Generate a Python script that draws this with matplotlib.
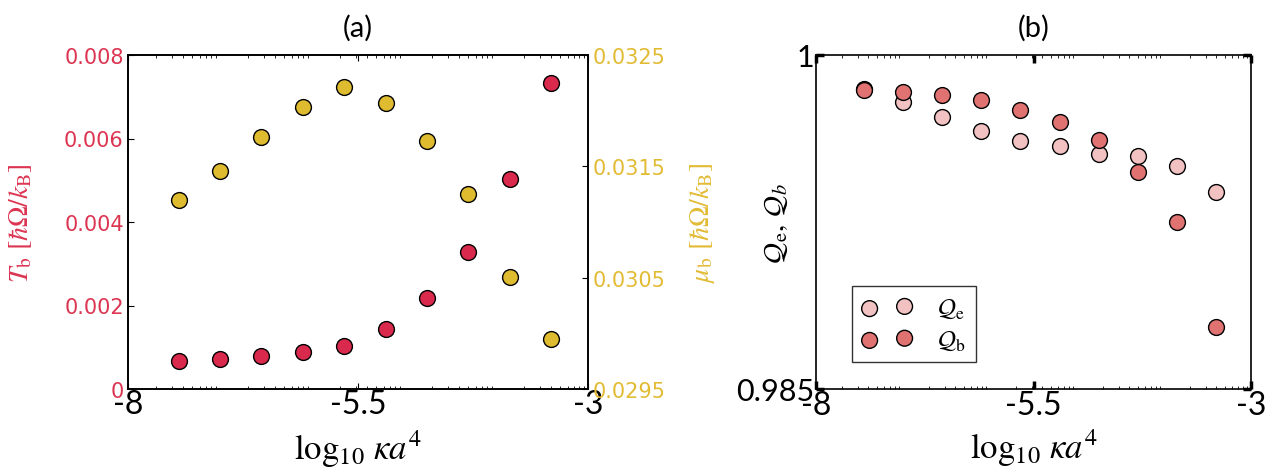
import numpy as np
import matplotlib
matplotlib.use("Agg")
import matplotlib.pyplot as plt

plt.rcParams['mathtext.fontset'] = 'stix'

# data
log_ka4 = [-7.45, -7.0, -6.55, -6.1, -5.65, -5.2, -4.75, -4.3, -3.85, -3.4]
T_b = [0.00067, 0.00073, 0.00079, 0.00088, 0.00102, 0.00144, 0.00217, 0.00327, 0.00502, 0.00732]
mu_b = [0.03120, 0.03146, 0.03176, 0.03203, 0.03221, 0.03207, 0.03173, 0.03125, 0.03051, 0.02995]
Q_e = [0.99848, 0.99791, 0.99722, 0.99658, 0.99613, 0.99593, 0.99557, 0.99546, 0.99501, 0.99383]
Q_b = [0.99842, 0.99835, 0.99821, 0.99796, 0.99751, 0.99698, 0.99620, 0.99474, 0.99251, 0.98779]

xticks = [-8, -5.5, -3]
xtick_labels = ['-8', '-5.5', '-3']
T_ticks = [0, 0.002, 0.004, 0.006, 0.008]
T_labels = ['0', '0.002', '0.004', '0.006', '0.008']
mu_ticks = [0.0295, 0.0305, 0.0315, 0.0325]
mu_labels = ['0.0295', '0.0305', '0.0315', '0.0325']

red = '#d92a4e'
yellow = '#dfbb30'
red_txt = '#dc3552'
yellow_txt = '#e2bb35'
light = '#f2c2c2'
dark = '#e07272'

# log-style minor ticks like in the original
minor = [n + np.log10(k) for n in range(-8, -3) for k in range(2, 10)]

fig = plt.figure(figsize=(12.87, 4.77), dpi=100)
ax1 = fig.add_axes([128/1287, 1-390/477, 460/1287, 334/477])
ax2 = ax1.twinx()
ax3 = fig.add_axes([816/1287, 1-390/477, 435/1287, 334/477])

ms = 130

# ---- panel (a)
ax1.scatter(log_ka4, T_b, s=ms, color=red, edgecolor='black', linewidth=1, zorder=3)
ax2.scatter(log_ka4, mu_b, s=ms, color=yellow, edgecolor='black', linewidth=1, zorder=3)
ax1.set_xlim(-8, -3)
ax1.set_ylim(0, 0.008)
ax2.set_ylim(0.0295, 0.0325)
ax1.set_xticks(xticks)
ax1.set_xticklabels(xtick_labels, fontsize=23, family='Lato')
ax1.set_xticks(minor, minor=True)
ax1.set_yticks(T_ticks)
ax1.set_yticklabels(T_labels, color=red_txt, fontsize=15)
ax2.set_yticks(mu_ticks)
ax2.set_yticklabels(mu_labels, color=yellow_txt, fontsize=15)
ax1.tick_params(axis='x', which='both', direction='in', top=True, pad=0)
ax1.tick_params(axis='x', which='minor', length=2, width=0.6)
ax1.tick_params(axis='x', which='major', length=4)
ax1.tick_params(axis='y', direction='in', length=4, pad=3)
ax2.tick_params(axis='y', direction='in', length=4, pad=3)
ax1.set_ylabel(r'$T_\mathrm{b}\ [\hbar\Omega/k_\mathrm{B}]$', color=red_txt, fontsize=20)
ax1.yaxis.set_label_coords(-0.205, 0.5)
ax2.set_ylabel(r'$\mu_\mathrm{b}\ [\hbar\Omega/k_\mathrm{B}]$', color=yellow_txt, fontsize=20,
               rotation=90)
ax2.yaxis.set_label_coords(1.217, 0.5)
ax1.set_xlabel(r'$\log_{10}\,\kappa a^4$', fontsize=25, labelpad=6)
ax1.set_title('(a)', fontsize=21, family='Lato', pad=14)

# ---- panel (b)
ax3.scatter(log_ka4, Q_e, s=ms, color=light, edgecolor='black', linewidth=1, zorder=3, label=r'$\mathcal{Q}_\mathrm{e}$')
ax3.scatter(log_ka4, Q_b, s=ms, color=dark, edgecolor='black', linewidth=1, zorder=3, label=r'$\mathcal{Q}_\mathrm{b}$')
ax3.set_xlim(-8, -3)
ax3.set_ylim(0.985, 1)
ax3.set_xticks(xticks)
ax3.set_xticklabels(xtick_labels, fontsize=23, family='Lato')
ax3.set_xticks(minor, minor=True)
ax3.set_yticks([0.985, 1])
ax3.set_yticklabels(['0.985', '1'], fontsize=22, family='Lato')
ax3.tick_params(axis='both', which='major', direction='in', length=6, width=2.5,
                top=True, right=True, pad=1)
ax3.tick_params(axis='x', which='minor', direction='in', length=2, width=0.6, top=True)
ax3.set_ylabel(r'$\mathcal{Q}_\mathrm{e},\,\mathcal{Q}_b$', fontsize=21)
ax3.yaxis.set_label_coords(-0.06, 0.5)
ax3.set_xlabel(r'$\log_{10}\,\kappa a^4$', fontsize=25, labelpad=4)
ax3.set_title('(b)', fontsize=21, family='Lato', pad=14)
leg = ax3.legend(loc='lower left', bbox_to_anchor=(0.083, 0.08), borderaxespad=0,
                 scatterpoints=2, fontsize=18, frameon=True, fancybox=False,
                 edgecolor='black', handletextpad=1.0, labelspacing=0.3, borderpad=0.4)
leg.get_frame().set_linewidth(1)

for a in (ax1, ax2, ax3):
    for s in a.spines.values():
        s.set_linewidth(1.2)

fig.savefig('out.png', dpi=100)
